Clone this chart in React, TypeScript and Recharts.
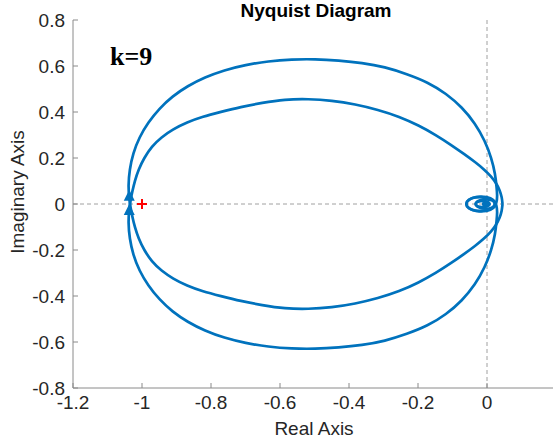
import { ComposedChart, Line, Scatter, XAxis, YAxis, ReferenceLine } from 'recharts'

// positive-frequency branch, read off the plot (real / imaginary parts):
// inner arc below the axis, crossing near -1.035, outer arc above, then the spiral into 0
const branchRe = [
  0.045, 0.043, 0.037, 0.027, 0.012, -0.008, -0.034, -0.066, -0.104, -0.148, -0.198, -0.254,
  -0.316, -0.382, -0.45, -0.518, -0.586, -0.652, -0.714, -0.772, -0.824, -0.87, -0.91, -0.944,
  -0.972, -0.994, -1.01, -1.021, -1.028, -1.033,
  -1.037, -1.04, -1.036, -1.026, -1.008, -0.982, -0.95, -0.912, -0.868, -0.818, -0.762, -0.7,
  -0.634, -0.566, -0.498, -0.43, -0.362, -0.296, -0.232, -0.172, -0.118, -0.072, -0.034,
  -0.006, 0.013, 0.024, 0.028,
  0.03, 0.028, 0.02, 0.0, -0.03, -0.052, -0.063, -0.055, -0.035, -0.01, 0.01, 0.022, 0.024,
  0.015, -0.002, -0.022, -0.034, -0.032, -0.02, -0.005, 0.006, 0.008, 0.0, -0.01, -0.012,
  -0.006, 0,
]
const branchIm = [
  0, -0.03, -0.06, -0.09, -0.12, -0.15, -0.182, -0.217, -0.257, -0.3, -0.342, -0.38, -0.41,
  -0.434, -0.45, -0.457, -0.455, -0.44, -0.422, -0.4, -0.38, -0.355, -0.325, -0.29, -0.25,
  -0.2, -0.15, -0.1, -0.055, -0.018,
  0.02, 0.08, 0.15, 0.22, 0.29, 0.355, 0.415, 0.468, 0.513, 0.551, 0.582, 0.605,
  0.621, 0.629, 0.63, 0.624, 0.614, 0.596, 0.565, 0.53, 0.48, 0.42, 0.35,
  0.275, 0.2, 0.13, 0.07,
  0.035, 0.005, -0.02, -0.032, -0.033, -0.022, 0.0, 0.02, 0.03, 0.03, 0.024, 0.01, -0.005,
  -0.017, -0.022, -0.018, -0.006, 0.007, 0.014, 0.014, 0.007, -0.003, -0.008, -0.006, 0.0,
  0.004, 0,
]

const arrowRe = [-1.037, -1.037]
const arrowIm = [0.036, -0.026]
const criticalRe = [-1]
const criticalIm = [0]

const xTicks = [-1.2, -1, -0.8, -0.6, -0.4, -0.2, 0]
const xTopTicks = [-1.2, -1, -0.8, -0.6, -0.4, -0.2, 0, 0.2]
const yTicks = [-0.8, -0.6, -0.4, -0.2, 0, 0.2, 0.4, 0.6, 0.8]

const posBranch = branchRe.map((re, i) => ({ re, im: branchIm[i] }))
const negBranch = posBranch.map((p) => ({ re: p.re, im: -p.im }))
const arrows = arrowRe.map((re, i) => ({ re, im: arrowIm[i] }))
const critical = criticalRe.map((re, i) => ({ re, im: criticalIm[i] }))

const BLUE = '#0072BD'
const AXIS = '#8a8a8a'
const TEXT = '#262626'
const FONT = '"Liberation Sans", Arial, sans-serif'

const tickStyle = { fill: TEXT, fontSize: 19, fontFamily: FONT }

const Arrow = (props: any) => {
  const { cx, cy } = props
  return <polygon points={`${cx},${cy - 6} ${cx - 5.5},${cy + 5} ${cx + 5.5},${cy + 5}`} fill={BLUE} />
}

const Plus = (props: any) => {
  const { cx, cy } = props
  return (
    <g stroke="#ff0000" strokeWidth={2}>
      <line x1={cx - 5} y1={cy} x2={cx + 5} y2={cy} />
      <line x1={cx} y1={cy - 5} x2={cx} y2={cy + 5} />
    </g>
  )
}

export default function App() {
  return (
    <div style={{ position: 'fixed', left: 0, top: 0, width: 553, height: 444, overflow: 'hidden', background: '#fff' }}>
      <ComposedChart width={556} height={444} margin={{ top: 20, right: 0, bottom: 0, left: 0 }}>
        <XAxis
          dataKey="re"
          type="number"
          domain={[-1.2, 0.2]}
          ticks={xTicks}
          allowDataOverflow
          height={56}
          stroke={AXIS}
          tickSize={-5}
          tickMargin={13}
          tick={tickStyle}
          interval={0}
        />
        <XAxis
          xAxisId="top"
          orientation="top"
          type="number"
          domain={[-1.2, 0.2]}
          ticks={xTopTicks}
          height={0}
          stroke={AXIS}
          tickSize={-5}
          tick={false}
        />
        <YAxis
          dataKey="im"
          type="number"
          domain={[-0.8, 0.8]}
          ticks={yTicks}
          allowDataOverflow
          width={73}
          stroke={AXIS}
          tickSize={-5}
          tickMargin={13}
          tick={tickStyle}
          interval={0}
        />
        <YAxis
          yAxisId="right"
          orientation="right"
          type="number"
          domain={[-0.8, 0.8]}
          ticks={yTicks}
          width={0}
          stroke={AXIS}
          tickSize={-5}
          tick={false}
        />
        <ReferenceLine x={0} stroke="#a0a0a0" strokeDasharray="4 3" />
        <ReferenceLine y={0} stroke="#a0a0a0" strokeDasharray="4 3" />
        <Line data={posBranch} dataKey="im" type="basis" stroke={BLUE} strokeWidth={2.7} dot={false} isAnimationActive={false} />
        <Line data={negBranch} dataKey="im" type="basis" stroke={BLUE} strokeWidth={2.7} dot={false} isAnimationActive={false} />
        <Scatter data={arrows} dataKey="im" shape={Arrow} isAnimationActive={false} />
        <Scatter data={critical} dataKey="im" shape={Plus} isAnimationActive={false} />
      </ComposedChart>
      <div style={{ position: 'absolute', left: 316, top: 1, transform: 'translateX(-50%)', fontFamily: FONT, fontWeight: 'bold', fontSize: 19, lineHeight: '20px', color: '#000', whiteSpace: 'nowrap' }}>
        Nyquist Diagram
      </div>
      <div style={{ position: 'absolute', left: 110, top: 42, fontFamily: '"Liberation Serif", "Times New Roman", serif', fontWeight: 'bold', fontSize: 26, color: '#000' }}>
        k=9
      </div>
      <div style={{ position: 'absolute', left: 314, top: 418, transform: 'translateX(-50%)', fontFamily: FONT, fontSize: 19, color: TEXT, whiteSpace: 'nowrap' }}>
        Real Axis
      </div>
      <div style={{ position: 'absolute', left: 18, top: 192, transform: 'translate(-50%, -50%) rotate(-90deg)', fontFamily: FONT, fontSize: 19, color: TEXT, whiteSpace: 'nowrap' }}>
        Imaginary Axis
      </div>
    </div>
  )
}
